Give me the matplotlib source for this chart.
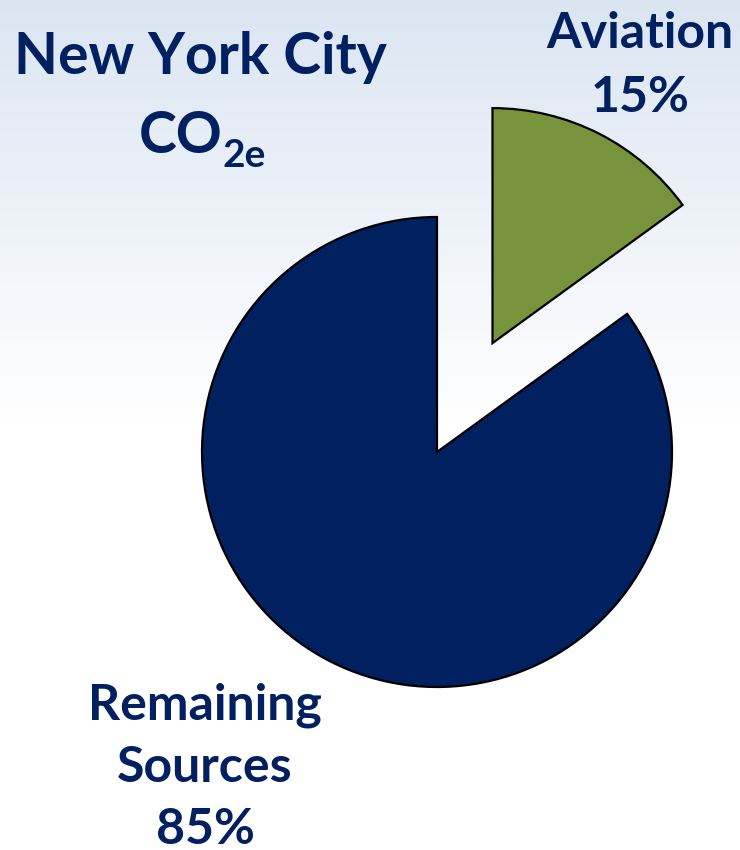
import numpy as np
import matplotlib
matplotlib.use("Agg")
import matplotlib.pyplot as plt
from matplotlib.colors import LinearSegmentedColormap

# Shares of New York City CO2e emissions (%)
labels = ["Aviation", "Remaining\nSources"]
shares = [15, 85]
colors = ["#77933C", "#002060"]
explode = [0.52, 0.0]   # as a fraction of the radius

text_color = "#002060"
W, H = 740, 850
radius = 235

fig = plt.figure(figsize=(W / 100, H / 100), dpi=100)

# background gradient: light blue at the top fading to white
bg = fig.add_axes([0, 0, 1, 1], zorder=0)
grad = np.linspace(0, 1, 256).reshape(-1, 1)
cmap = LinearSegmentedColormap.from_list("bg", [(0.0, "#dbe5f2"), (0.5, "#ffffff"), (1.0, "#ffffff")])
bg.imshow(grad, aspect="auto", cmap=cmap, extent=[0, 1, 0, 1], origin="upper")
bg.axis("off")

ax = fig.add_axes([0, 0, 1, 1], zorder=1)
ax.patch.set_alpha(0)
ax.pie(shares, colors=colors, explode=[e * radius for e in explode],
       startangle=90, counterclock=False,
       center=(437, H - 452), radius=radius,
       wedgeprops=dict(edgecolor="black", linewidth=1.6))
ax.set_xlim(0, W)
ax.set_ylim(0, H)
ax.set_aspect("equal")
ax.axis("off")

font = dict(family=["Lato", "DejaVu Sans"], weight="bold", color=text_color)

# title
ax.text(200, H - 74, "New York City", ha="center", va="baseline", fontsize=41, **font)
ax.text(139, H - 153, "CO", ha="left", va="baseline", fontsize=41, **font)
ax.text(222, H - 167, "2e", ha="left", va="baseline", fontsize=28, **font)

# slice labels
ax.text(640, H - 48, labels[0], ha="center", va="baseline", fontsize=36, **font)
ax.text(640, H - 112, f"{shares[0]}%", ha="center", va="baseline", fontsize=36, **font)

rem_lines = labels[1].split("\n") + [f"{shares[1]}%"]
for i, line in enumerate(rem_lines):
    ax.text(205, H - 720 - 62 * i, line, ha="center", va="baseline", fontsize=36, **font)

fig.savefig("out.png", dpi=100)
